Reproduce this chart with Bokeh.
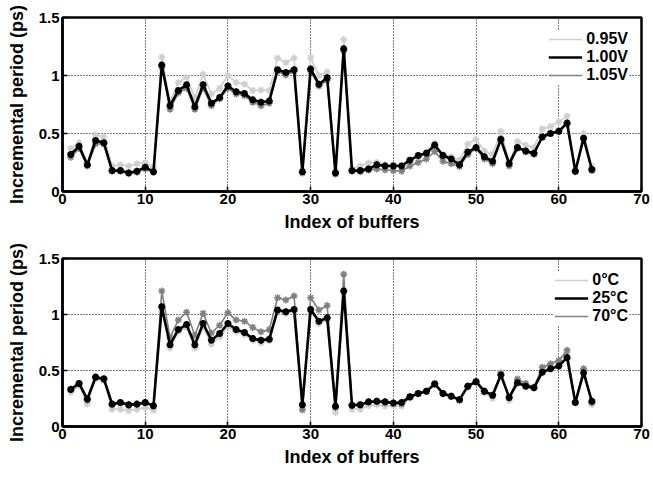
from bokeh.plotting import figure
from bokeh.layouts import column
from bokeh.models import Legend, LegendItem, FixedTicker, NumeralTickFormatter, Range1d
from bokeh.embed import file_html
from bokeh.resources import INLINE

idx = list(range(1, 65))

v095 = [0.37, 0.42, 0.24, 0.49, 0.47, 0.22, 0.23, 0.22, 0.24, 0.25, 0.21, 1.16, 0.77, 0.94, 0.985, 0.81,
        1.01, 0.84, 0.89, 1.0, 0.94, 0.925, 0.87, 0.875, 0.87, 1.15, 1.11, 1.15, 0.175, 1.155, 1.0, 1.03,
        0.18, 1.31, 0.195, 0.22, 0.245, 0.25, 0.23, 0.23, 0.22, 0.27, 0.30, 0.34, 0.415, 0.32, 0.30, 0.27,
        0.41, 0.45, 0.35, 0.32, 0.52, 0.25, 0.43, 0.40, 0.38, 0.54, 0.56, 0.60, 0.65, 0.18, 0.50, 0.22]
v100 = [0.32, 0.39, 0.23, 0.44, 0.42, 0.18, 0.18, 0.16, 0.175, 0.21, 0.17, 1.09, 0.74, 0.87, 0.92, 0.73,
        0.92, 0.76, 0.81, 0.91, 0.86, 0.845, 0.79, 0.77, 0.78, 1.05, 1.025, 1.05, 0.17, 1.055, 0.925, 0.98,
        0.16, 1.23, 0.18, 0.18, 0.195, 0.23, 0.22, 0.22, 0.22, 0.27, 0.31, 0.33, 0.40, 0.31, 0.28, 0.23,
        0.34, 0.38, 0.30, 0.26, 0.45, 0.24, 0.38, 0.35, 0.33, 0.47, 0.50, 0.52, 0.59, 0.175, 0.46, 0.19]
v105 = [0.295, 0.37, 0.22, 0.41, 0.41, 0.175, 0.175, 0.16, 0.165, 0.195, 0.165, 1.07, 0.71, 0.85, 0.89, 0.71,
        0.89, 0.74, 0.80, 0.89, 0.84, 0.825, 0.77, 0.74, 0.76, 1.035, 1.005, 1.035, 0.16, 1.035, 0.91, 0.96,
        0.15, 1.21, 0.175, 0.17, 0.185, 0.195, 0.185, 0.18, 0.175, 0.22, 0.25, 0.28, 0.345, 0.26, 0.24, 0.215,
        0.32, 0.37, 0.28, 0.24, 0.44, 0.22, 0.37, 0.34, 0.32, 0.47, 0.50, 0.515, 0.58, 0.17, 0.45, 0.18]

t0 = [0.305, 0.365, 0.20, 0.425, 0.41, 0.155, 0.155, 0.14, 0.155, 0.17, 0.145, 1.04, 0.70, 0.845, 0.885, 0.70,
      0.89, 0.735, 0.80, 0.89, 0.845, 0.82, 0.77, 0.745, 0.765, 1.025, 1.01, 1.03, 0.14, 1.03, 0.92, 0.95,
      0.125, 1.19, 0.155, 0.155, 0.185, 0.195, 0.18, 0.185, 0.18, 0.255, 0.29, 0.315, 0.375, 0.29, 0.265, 0.23,
      0.35, 0.395, 0.30, 0.25, 0.485, 0.235, 0.41, 0.38, 0.35, 0.525, 0.555, 0.585, 0.665, 0.21, 0.515, 0.195]
t25 = [0.33, 0.385, 0.245, 0.44, 0.425, 0.20, 0.215, 0.195, 0.20, 0.215, 0.185, 1.07, 0.73, 0.865, 0.91, 0.73,
       0.92, 0.77, 0.83, 0.92, 0.865, 0.84, 0.785, 0.77, 0.78, 1.04, 1.025, 1.045, 0.195, 1.045, 0.94, 0.97,
       0.18, 1.21, 0.19, 0.195, 0.22, 0.225, 0.22, 0.21, 0.215, 0.265, 0.295, 0.315, 0.38, 0.295, 0.27, 0.24,
       0.36, 0.40, 0.315, 0.28, 0.46, 0.26, 0.39, 0.36, 0.345, 0.485, 0.515, 0.54, 0.615, 0.215, 0.48, 0.225]
t70 = [0.335, 0.385, 0.235, 0.445, 0.43, 0.195, 0.21, 0.185, 0.195, 0.21, 0.18, 1.21, 0.795, 0.95, 1.02, 0.815,
       1.01, 0.835, 0.905, 1.015, 0.95, 0.94, 0.885, 0.845, 0.865, 1.15, 1.13, 1.165, 0.155, 1.15, 1.04, 1.08,
       0.17, 1.36, 0.185, 0.19, 0.215, 0.22, 0.21, 0.205, 0.20, 0.26, 0.295, 0.315, 0.385, 0.295, 0.27, 0.235,
       0.36, 0.405, 0.315, 0.275, 0.47, 0.255, 0.425, 0.385, 0.35, 0.53, 0.56, 0.59, 0.68, 0.215, 0.515, 0.215]

x_ticks = [0, 10, 20, 30, 40, 50, 60, 70]
y_ticks = [0, 0.5, 1.0, 1.5]

LIGHT = "#cfcfcf"
MID = "#808080"
BLACK = "#000000"
FONT = "Liberation Sans"


def make_panel(series, labels, height, borders):
    top, bottom, left, right = borders
    p = figure(width=653, height=height, output_backend="svg", toolbar_location=None,
               x_range=Range1d(0, 70), y_range=Range1d(0, 1.5),
               min_border_top=top, min_border_bottom=bottom,
               min_border_left=left, min_border_right=right)
    p.background_fill_color = "white"
    p.border_fill_color = "white"
    p.outline_line_color = "black"
    p.outline_line_width = 2.5
    for ax in (p.xaxis[0], p.yaxis[0]):
        ax.axis_line_color = "black"
        ax.axis_line_width = 2.5
        ax.major_tick_in = 5
        ax.major_tick_out = 0
        ax.minor_tick_line_color = None
        ax.major_tick_line_width = 1.5
        ax.major_label_text_font = FONT
        ax.major_label_text_font_style = "bold"
        ax.major_label_text_font_size = "15px"
        ax.major_label_text_color = "black"
        ax.axis_label_text_font = FONT
        ax.axis_label_text_font_style = "bold"
        ax.axis_label_text_font_size = "18px"
        ax.axis_label_text_color = "black"
    p.xaxis[0].ticker = FixedTicker(ticks=x_ticks)
    p.yaxis[0].ticker = FixedTicker(ticks=y_ticks)
    p.yaxis[0].formatter = NumeralTickFormatter(format="0.[0]")
    p.xaxis[0].major_label_standoff = 2
    p.yaxis[0].major_label_standoff = 3
    p.xaxis[0].axis_label = "Index of buffers"
    p.yaxis[0].axis_label = "Incremental period (ps)"
    p.xaxis[0].axis_label_standoff = 5
    p.yaxis[0].axis_label_standoff = 9
    for g in (p.xgrid[0], p.ygrid[0]):
        g.grid_line_color = "black"
        g.grid_line_dash = "1 2"
        g.grid_line_width = 1
        g.grid_line_alpha = 1.0

    styles = [(LIGHT, 1.6, 1.5), (BLACK, 2.6, 2.2), (MID, 1.6, 1.5)]
    renderers = {}
    order = [0, 2, 1]
    for i in order:
        col, lw, mlw = styles[i]
        r = p.line(idx, series[i], line_color=col, line_width=lw)
        p.scatter(idx, series[i], marker="asterisk", size=7, line_color=col, line_width=mlw)
        if i == 1:
            p.scatter(idx, series[i], marker="diamond", size=6, fill_color=col, line_color=col)
        renderers[i] = r

    legend = Legend(items=[LegendItem(label=labels[i], renderers=[renderers[i]]) for i in range(3)],
                    location="top_right")
    legend.label_text_font = FONT
    legend.label_text_font_style = "bold"
    legend.label_text_font_size = "16px"
    legend.label_text_color = "black"
    legend.label_height = 12
    legend.glyph_height = 12
    legend.glyph_width = 34
    legend.spacing = 0
    legend.padding = 4
    legend.margin = 13
    legend.label_standoff = 4
    legend.label_text_line_height = 0.8
    legend.border_line_color = None
    legend.background_fill_color = "white"
    legend.background_fill_alpha = 1.0
    p.add_layout(legend)
    return p


p1 = make_panel([v095, v100, v105], ["0.95V", "1.00V", "1.05V"], 240, (17, 49, 62, 12))
p2 = make_panel([t0, t25, t70], ["0°C", "25°C", "70°C"], 237, (18, 51, 59, 7))

layout = column(p1, p2, spacing=0)
open("out.html", "w").write(file_html(layout, INLINE))
